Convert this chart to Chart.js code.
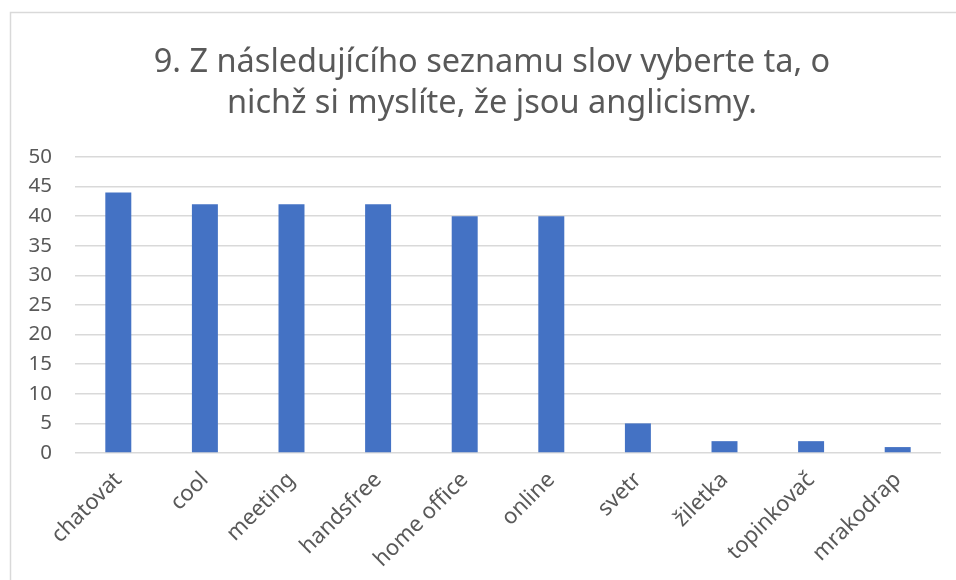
<!DOCTYPE html>
<html>
<head>
<meta charset="utf-8">
<script src="https://cdn.jsdelivr.net/npm/chart.js@4/dist/chart.umd.min.js"></script>
<style>
  html, body { margin: 0; padding: 0; background: #fff; }
  #wrap { width: 956px; height: 580px; position: relative; }
</style>
</head>
<body>
<div id="wrap"><canvas id="chart"></canvas></div>
<script>
const titleLines = ['9. Z následujícího seznamu slov vyberte ta, o', 'nichž si myslíte, že jsou anglicismy.']
const words = ['chatovat', 'cool', 'meeting', 'handsfree', 'home office', 'online', 'svetr', 'žiletka', 'topinkovač', 'mrakodrap']
const counts = [44, 42, 42, 42, 40, 40, 5, 2, 2, 1]
const yTicks = [0, 5, 10, 15, 20, 25, 30, 35, 40, 45, 50]

// light frame around the chart + the title, centred on the frame like the spreadsheet chart
const frame = {
  id: 'frame',
  beforeDraw(chart) {
    const ctx = chart.ctx
    ctx.save()
    ctx.fillStyle = '#fff'
    ctx.fillRect(0, 0, chart.width, chart.height)
    ctx.strokeStyle = '#d9d9d9'
    ctx.lineWidth = 1.5
    ctx.strokeRect(10.5, 12.5, 960, 600)
    ctx.restore()
  },
  afterDraw(chart) {
    const ctx = chart.ctx
    ctx.save()
    ctx.fillStyle = '#595959'
    ctx.font = '32.5px "Noto Sans"'
    ctx.textAlign = 'center'
    ctx.textBaseline = 'middle'
    titleLines.forEach((line, i) => ctx.fillText(line, 492, 63 + i * 41))
    ctx.restore()
  }
}

new Chart(document.getElementById('chart').getContext('2d'), {
  type: 'bar',
  data: {
    labels: words,
    datasets: [{
      label: 'Počet',
      data: counts,
      backgroundColor: '#4472C4',
      barPercentage: 0.3,
      categoryPercentage: 1
    }]
  },
  options: {
    responsive: true,
    maintainAspectRatio: false,
    animation: false,
    layout: { padding: { left: 10, right: 15, top: 157, bottom: 0 } },
    plugins: {
      legend: { display: false },
      tooltip: { enabled: false },
      title: { display: false }
    },
    scales: {
      x: {
        afterFit(axis) { axis.height = 127 },
        grid: { display: false },
        border: { display: false },
        ticks: {
          color: '#595959',
          font: { family: 'Noto Sans', size: 22 },
          minRotation: 45,
          maxRotation: 45,
          padding: 6
        }
      },
      y: {
        min: 0,
        max: 50,
        afterBuildTicks(axis) { axis.ticks = yTicks.map(v => ({ value: v })) },
        afterFit(axis) { axis.width = 65 },
        grid: { color: '#d9d9d9', lineWidth: 1.5, drawTicks: false },
        border: { display: false },
        ticks: {
          color: '#595959',
          font: { family: 'Noto Sans', size: 20.5 },
          padding: 23
        }
      }
    }
  },
  plugins: [frame]
})
</script>
</body>
</html>
